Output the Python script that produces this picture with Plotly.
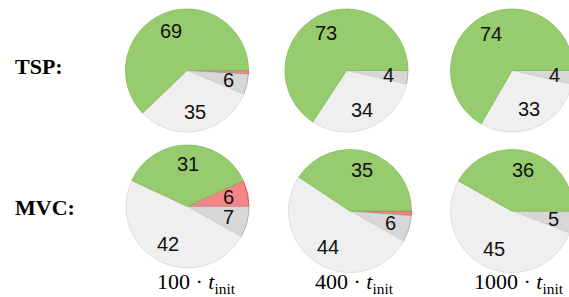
import math
import plotly.graph_objects as go

# ---------------- data ----------------
budgets = ["100", "400", "1000"]
slice_names = ["red", "gray", "white", "green"]

tsp_red = [1, 0, 0]
tsp_gray = [6, 4, 4]
tsp_white = [35, 34, 33]
tsp_green = [69, 73, 74]

mvc_red = [6, 1, 0]
mvc_gray = [7, 6, 5]
mvc_white = [42, 44, 45]
mvc_green = [31, 35, 36]

# ---------------- style ----------------
W, H = 576, 297          # slightly wider than the window; the overflow is clipped
fill_colors = ["#F28686", "#D7D7D8", "#EFEFF0", "#97CC6E"]
line_colors = ["#E23A3A", "#A5A5A5", "#D9D9DA", "#7FBD57"]
R = 61.5
tsp_centers = [(187, 70.5), (346.5, 70.5), (512, 70.5)]
mvc_centers = [(187.5, 206.5), (350, 211), (512, 211)]
label_r = 0.69
label_min = 3

fig = go.Figure()
annotations = []


def add_pie(vals, center, red_before_east):
    cx, cy = center
    total = sum(vals)
    # rotation (clockwise from 12 o'clock) of the first slice's start
    rot = 90.0 - (360.0 * vals[0] / total if red_before_east else 0.0)
    x0 = max(0.0, (cx - R) / W)
    x1 = min(1.0, (cx + R) / W)
    y0 = max(0.0, 1 - (cy + R) / H)
    y1 = min(1.0, 1 - (cy - R) / H)
    fig.add_trace(go.Pie(
        values=vals, labels=slice_names, sort=False, direction="clockwise",
        rotation=rot, textinfo="none", hoverinfo="label+value",
        marker=dict(colors=fill_colors, line=dict(color=line_colors, width=0.8)),
        domain=dict(x=[x0, x1], y=[y0, y1]), showlegend=False,
    ))
    dw = (x1 - x0) * W
    dh = (y1 - y0) * H
    r = min(dw, dh) / 2
    pcx = (x0 + x1) / 2 * W
    pcy = (1 - (y0 + y1) / 2) * H
    cum = 0.0
    for v in vals:
        mid = math.radians(rot + (cum + v / 2) / total * 360.0)
        cum += v
        if v < label_min:
            continue
        px = pcx + label_r * r * math.sin(mid)
        py = pcy - label_r * r * math.cos(mid)
        annotations.append(dict(
            x=px / W, y=1 - py / H, xref="paper", yref="paper",
            text=str(v), showarrow=False, xanchor="center", yanchor="middle",
            font=dict(family="Liberation Sans, Arial", size=20, color="#111"),
        ))


for i in range(3):
    add_pie([tsp_red[i], tsp_gray[i], tsp_white[i], tsp_green[i]], tsp_centers[i], False)
    add_pie([mvc_red[i], mvc_gray[i], mvc_white[i], mvc_green[i]], mvc_centers[i], i == 0)

row_labels = ["TSP:", "MVC:"]
row_y = [66, 207.5]
for t, y in zip(row_labels, row_y):
    annotations.append(dict(
        x=13 / W, y=1 - y / H, xref="paper", yref="paper", text=f"<b>{t}</b>",
        showarrow=False, xanchor="left", yanchor="middle",
        font=dict(family="Liberation Serif, Times New Roman", size=22, color="black"),
    ))

budget_x = [196, 354, 519]
for b, x in zip(budgets, budget_x):
    annotations.append(dict(
        x=x / W, y=1 - 283 / H, xref="paper", yref="paper",
        text=f"{b} · <i>t</i><sub>init</sub>",
        showarrow=False, xanchor="center", yanchor="middle",
        font=dict(family="Liberation Serif, Times New Roman", size=22, color="black"),
    ))

fig.update_layout(
    width=W, height=H, margin=dict(l=0, r=0, t=0, b=0),
    paper_bgcolor="white", plot_bgcolor="white",
    annotations=annotations,
)

fig.write_html(
    "out.html",
    config={"displayModeBar": False},
    post_script=(
        "document.body.style.margin='0';"
        "document.body.style.overflow='hidden';"
        "document.documentElement.style.overflow='hidden';"
    ),
)
